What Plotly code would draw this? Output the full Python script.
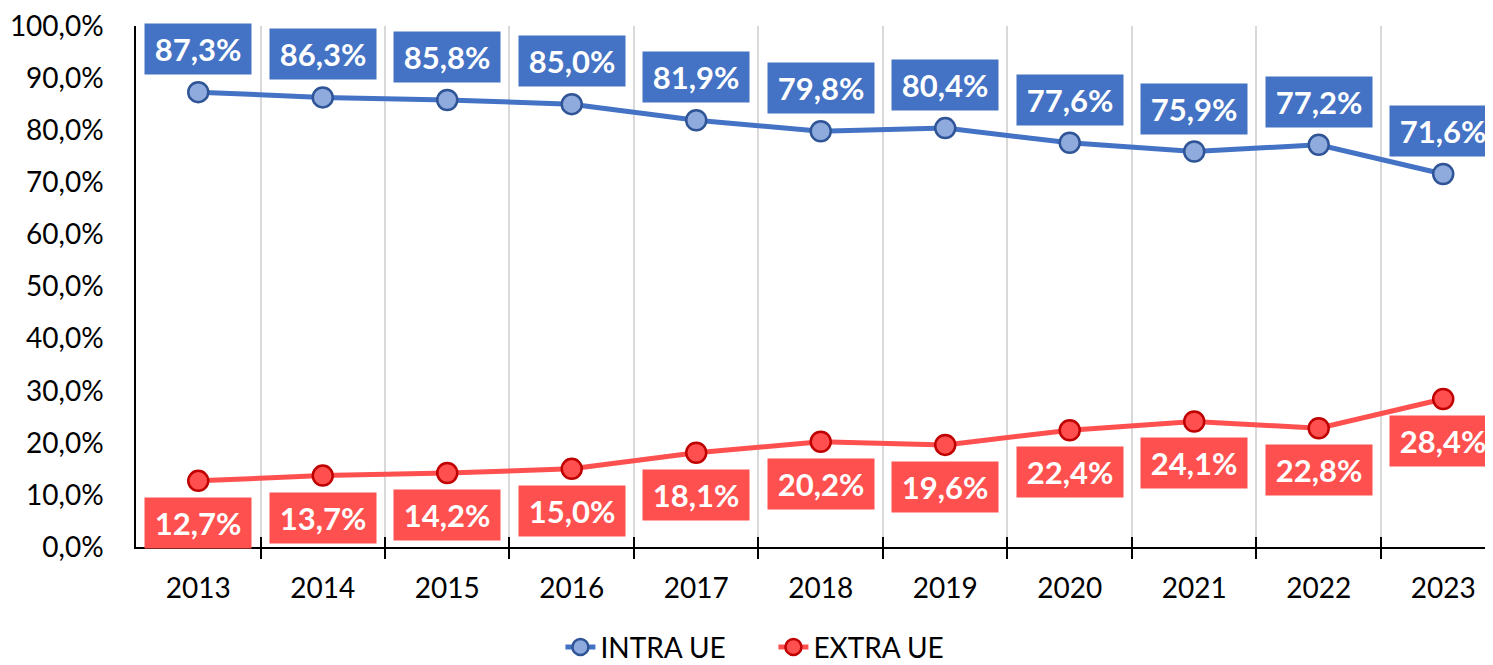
import plotly.graph_objects as go

years = ["2013", "2014", "2015", "2016", "2017", "2018", "2019", "2020", "2021", "2022", "2023"]
intra_ue = [87.3, 86.3, 85.8, 85.0, 81.9, 79.8, 80.4, 77.6, 75.9, 77.2, 71.6]
extra_ue = [12.7, 13.7, 14.2, 15.0, 18.1, 20.2, 19.6, 22.4, 24.1, 22.8, 28.4]
y_ticks = [0, 10, 20, 30, 40, 50, 60, 70, 80, 90, 100]

FONT = "Lato"
BLUE = "#4472C4"
BLUE_FILL = "#8FAADC"
BLUE_EDGE = "#2F5597"
RED = "#FF5050"
RED_FILL = "#FF4F4F"
RED_EDGE = "#C00000"

xs = list(range(len(years)))
bounds = [i + 0.5 for i in range(len(years) - 1)]

fig = go.Figure()
fig.add_trace(go.Scatter(
    x=xs, y=intra_ue, name="INTRA UE", mode="lines+markers",
    line=dict(color=BLUE, width=5),
    marker=dict(size=20, color=BLUE_FILL, line=dict(color=BLUE_EDGE, width=2.5)),
))
fig.add_trace(go.Scatter(
    x=xs, y=extra_ue, name="EXTRA UE", mode="lines+markers",
    line=dict(color=RED, width=5),
    marker=dict(size=20, color=RED_FILL, line=dict(color=RED_EDGE, width=2.5)),
))

def fmt(v):
    return f"{v:.1f}".replace(".", ",") + "%"

ann = []
for i, v in enumerate(intra_ue):
    ann.append(dict(x=xs[i], y=v, xref="x", yref="y", text=fmt(v), showarrow=False,
                    yshift=43, bgcolor=BLUE, width=104, height=48,
                    font=dict(family=FONT, size=31, color="white", weight="bold")))
for i, v in enumerate(extra_ue):
    ann.append(dict(x=xs[i], y=v, xref="x", yref="y", text=fmt(v), showarrow=False,
                    yshift=-42, bgcolor=RED, width=104, height=48,
                    font=dict(family=FONT, size=31, color="white", weight="bold")))

fig.update_layout(
    width=1485, height=657,
    margin=dict(l=128, r=0, t=18, b=118, autoexpand=False),
    paper_bgcolor="white", plot_bgcolor="white",
    separators=",.",
    font=dict(family=FONT, size=28, color="black"),
    annotations=ann,
    showlegend=True,
    legend=dict(orientation="h", xref="container", x=0.372, xanchor="left",
                yref="container", y=0.027, yanchor="middle",
                font=dict(family=FONT, size=28, color="black"),
                entrywidth=168, entrywidthmode="pixels", tracegroupgap=0),
    xaxis=dict(
        range=[-0.5, 10.40], tickmode="array", tickvals=xs, ticktext=years,
        showgrid=False, ticks="", showline=True, linecolor="black", linewidth=1.5,
        zeroline=False, ticklabelstandoff=16, automargin=False,
        ticklabeloverflow="allow",
        minor=dict(tickmode="array", tickvals=bounds, showgrid=True,
                   gridcolor="#D9D9D9", gridwidth=2, ticks="outside", ticklen=10,
                   tickcolor="black", tickwidth=1.5),
        tickfont=dict(family=FONT, size=28, color="black"),
    ),
    xaxis2=dict(
        range=[-0.5, 10.40], overlaying="x", anchor="y", side="bottom",
        tickmode="array", tickvals=[-0.5] + bounds, ticks="inside", ticklen=10,
        tickcolor="black", tickwidth=1.5, showticklabels=False, showgrid=False,
        showline=False, zeroline=False, automargin=False,
    ),
    yaxis=dict(
        range=[0, 100], tickmode="array", tickvals=y_ticks,
        ticktext=[fmt(t) for t in y_ticks],
        showgrid=False, zeroline=False, showline=True, linecolor="black", linewidth=1.5,
        ticks="", ticklabelstandoff=25, automargin=False,
        ticklabeloverflow="allow",
        tickfont=dict(family=FONT, size=28, color="black"),
    ),
)
fig.add_trace(go.Scatter(x=[xs[0]], y=[None], xaxis="x2", showlegend=False, hoverinfo="skip"))

fig.write_html("out.html")
